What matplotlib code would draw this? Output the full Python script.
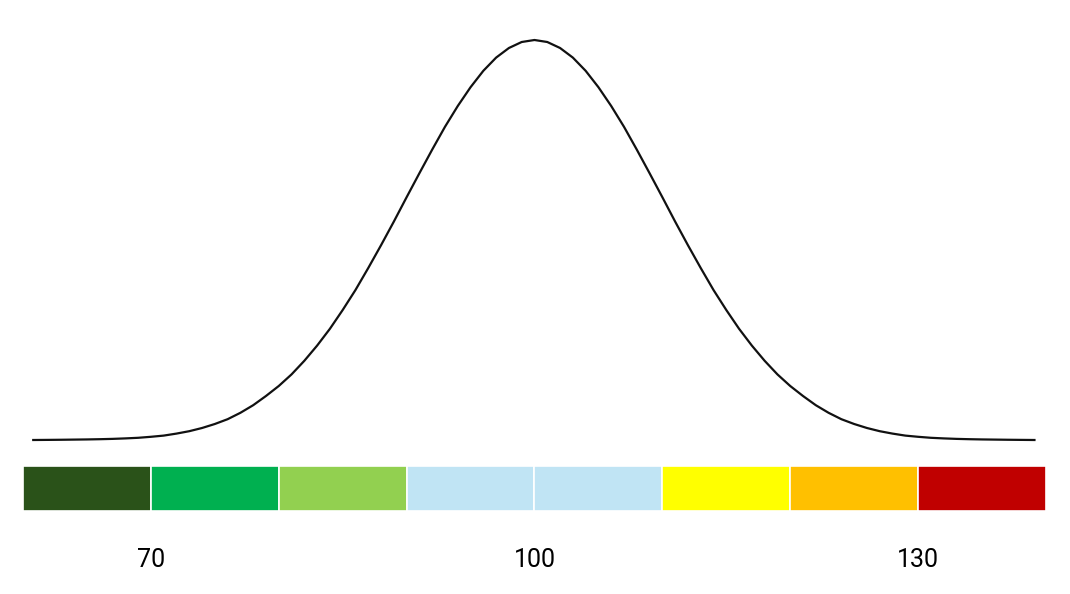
import matplotlib.pyplot as plt

# curve: score, relative height (peak = 1)
curve_x = [60.8] + list(range(62, 139)) + [139.1]
curve_y = [0.0,
           0.0003, 0.0006, 0.001, 0.0014, 0.002, 0.0028, 0.004, 0.0055, 0.008, 0.011,
           0.016, 0.022, 0.030, 0.040, 0.052, 0.068, 0.087, 0.110, 0.135, 0.164,
           0.198, 0.236, 0.278, 0.325, 0.375, 0.430, 0.487, 0.546, 0.607, 0.667,
           0.726, 0.783, 0.835, 0.882, 0.923, 0.956, 0.980, 0.995,
           1.000,
           0.995, 0.980, 0.956, 0.923, 0.882, 0.835, 0.783, 0.726,
           0.667, 0.607, 0.546, 0.487, 0.430, 0.375, 0.325, 0.278, 0.236, 0.198,
           0.164, 0.135, 0.110, 0.087, 0.068, 0.052, 0.040, 0.030, 0.022, 0.016,
           0.011, 0.008, 0.0055, 0.004, 0.0028, 0.002, 0.0014, 0.001, 0.0006, 0.0003,
           0.0]

# colour band segments
band_starts = [60, 70, 80, 90, 100, 110, 120, 130]
band_colors = ["#2A5219", "#00B050", "#92D050", "#C0E4F4",
               "#C0E4F4", "#FFFF00", "#FFC000", "#C00000"]

tick_values = [70, 100, 130]

plt.rcParams['font.family'] = ['Roboto', 'DejaVu Sans']

fig = plt.figure(figsize=(10.7, 5.94), dpi=100)
ax = fig.add_axes([0, 0, 1, 1])

ax.plot(curve_x, curve_y, color="#111111", lw=1.6, solid_joinstyle="round")

ax.bar(band_starts, [0.1125] * len(band_starts), width=10, bottom=-0.1775,
       align="edge", color=band_colors, edgecolor="white", linewidth=1.2)

for v in tick_values:
    ax.text(v, -0.3, str(v), ha="center", va="center", fontsize=18, color="black")

ax.set_xlim(58.2, 141.88)
ax.set_ylim(-0.385, 1.1)
ax.axis("off")

fig.savefig("out.png", dpi=100)
